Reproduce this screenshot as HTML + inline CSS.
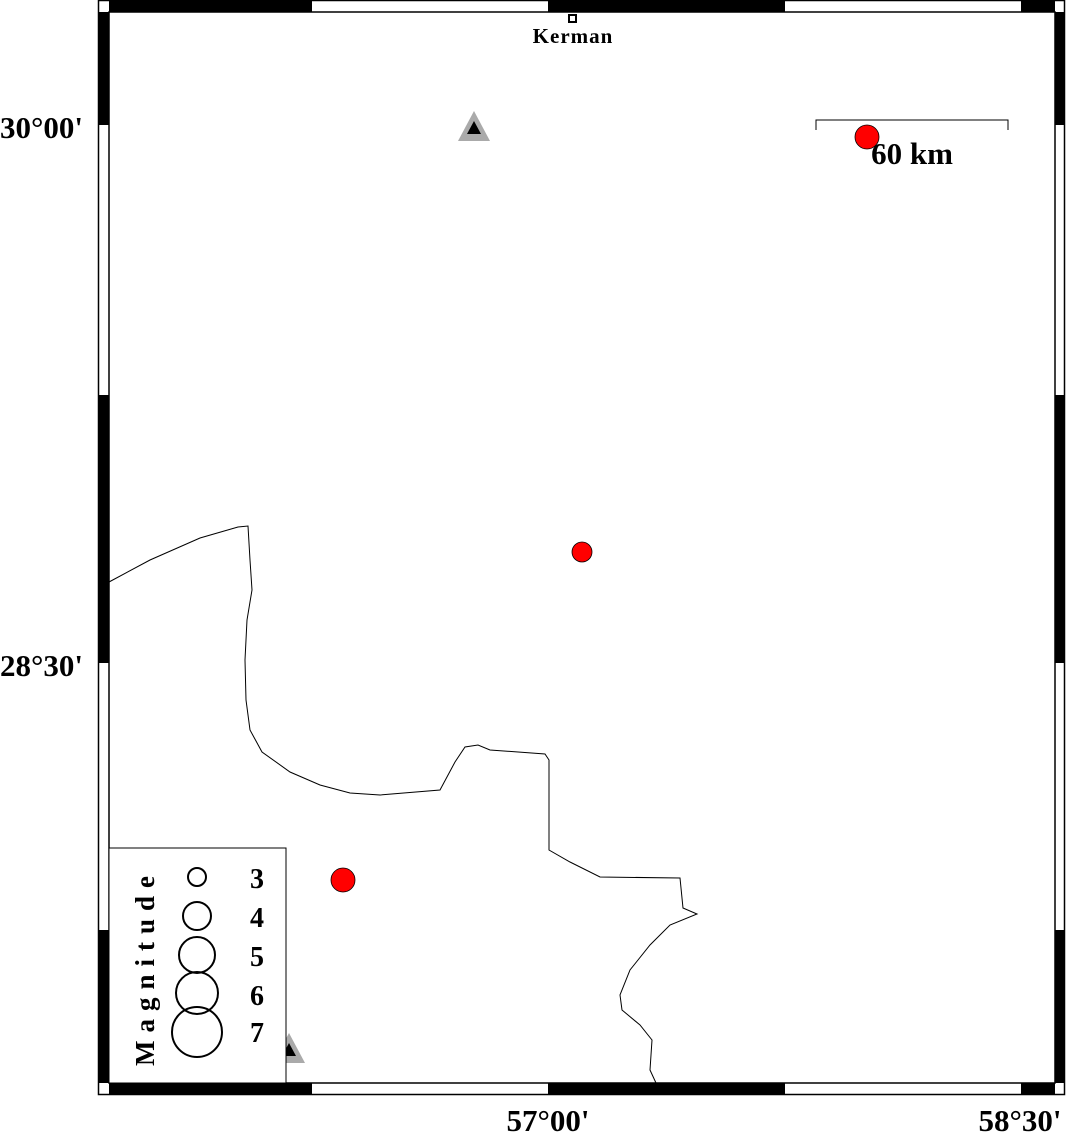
<!DOCTYPE html>
<html><head><style>body{margin:0;background:#fff}</style></head><body>
<svg width="1066" height="1133" xmlns="http://www.w3.org/2000/svg" style="display:block">
<rect width="1066" height="1133" fill="#fff"/>
<!-- frame -->
<rect x="98.5" y="0.5" width="966" height="1094" fill="none" stroke="#000" stroke-width="1.5"/>
<rect x="109" y="12" width="946" height="1071" fill="none" stroke="#000" stroke-width="1.5"/>
<g fill="#000">
<rect x="109" y="1" width="203" height="11"/><rect x="548" y="1" width="237" height="11"/><rect x="1021" y="1" width="34" height="11"/>
<rect x="109" y="1083" width="203" height="11"/><rect x="548" y="1083" width="237" height="11"/><rect x="1021" y="1083" width="34" height="11"/>
<rect x="99" y="12" width="10" height="113"/><rect x="99" y="395" width="10" height="268"/><rect x="99" y="930" width="10" height="153"/>
<rect x="1055" y="12" width="10" height="113"/><rect x="1055" y="395" width="10" height="268"/><rect x="1055" y="930" width="10" height="153"/>
</g>
<!-- coastline -->
<path d="M109,582 L150,560 L200,538 L238,527 L248,526 L250,560 L252,590 L247,620 L245,660 L246,700 L250,730 L262,752 L290,772 L320,785 L350,793 L380,795 L440,790 L455,762 L465,747 L478,745 L490,750 L545,754 L549,760 L549,850 L570,862 L600,877 L680,878 L683,908 L697,914 L670,925 L650,945 L630,970 L620,995 L622,1010 L640,1025 L652,1040 L650,1070 L656,1083" fill="none" stroke="#000" stroke-width="1"/>
<!-- triangles -->
<polygon points="474,111 458,141 490,141" fill="#aaa"/>
<polygon points="474,121 467,134 481,134" fill="#000"/>
<polygon points="289,1033 273,1063 305,1063" fill="#aaa"/>
<polygon points="289,1043 282,1056 296,1056" fill="#000"/>
<!-- events -->
<circle cx="867" cy="137" r="12" fill="#f00" stroke="#000" stroke-width="0.8"/>
<circle cx="582" cy="552" r="10" fill="#f00" stroke="#000" stroke-width="0.8"/>
<circle cx="343" cy="880" r="12" fill="#f00" stroke="#000" stroke-width="0.8"/>
<!-- Kerman -->
<rect x="569" y="15" width="7" height="7" fill="#fff" stroke="#000" stroke-width="2"/>
<text x="573" y="43" font-family="Liberation Serif,serif" font-weight="bold" font-size="21" text-anchor="middle" letter-spacing="1">Kerman</text>
<!-- scale -->
<path d="M816,130 V120 H1008 V130" fill="none" stroke="#000" stroke-width="1"/>
<text x="912" y="164" font-family="Liberation Serif,serif" font-weight="bold" font-size="31" text-anchor="middle">60 km</text>
<!-- axis labels -->
<g font-family="Liberation Serif,serif" font-weight="bold" font-size="31">
<text x="0" y="138">30°00'</text>
<text x="0" y="676">28°30'</text>
<text x="548" y="1131" text-anchor="middle">57°00'</text>
<text x="1020" y="1131" text-anchor="middle">58°30'</text>
</g>
<!-- legend -->
<rect x="109" y="848" width="177" height="235" fill="#fff" stroke="#000" stroke-width="1"/>
<g fill="none" stroke="#000" stroke-width="2">
<circle cx="197" cy="877" r="9"/><circle cx="197" cy="916" r="14"/><circle cx="197" cy="955" r="18"/><circle cx="197" cy="993" r="21"/><circle cx="197" cy="1032" r="25"/>
</g>
<g font-family="Liberation Serif,serif" font-weight="bold" font-size="28" text-anchor="middle">
<text x="257" y="888">3</text><text x="257" y="927">4</text><text x="257" y="966">5</text><text x="257" y="1005">6</text><text x="257" y="1042">7</text>
</g>
<text transform="translate(154,967) rotate(-90)" font-family="Liberation Serif,serif" font-weight="bold" font-size="27" text-anchor="middle" letter-spacing="8">Magnitude</text>
</svg>
</body></html>
